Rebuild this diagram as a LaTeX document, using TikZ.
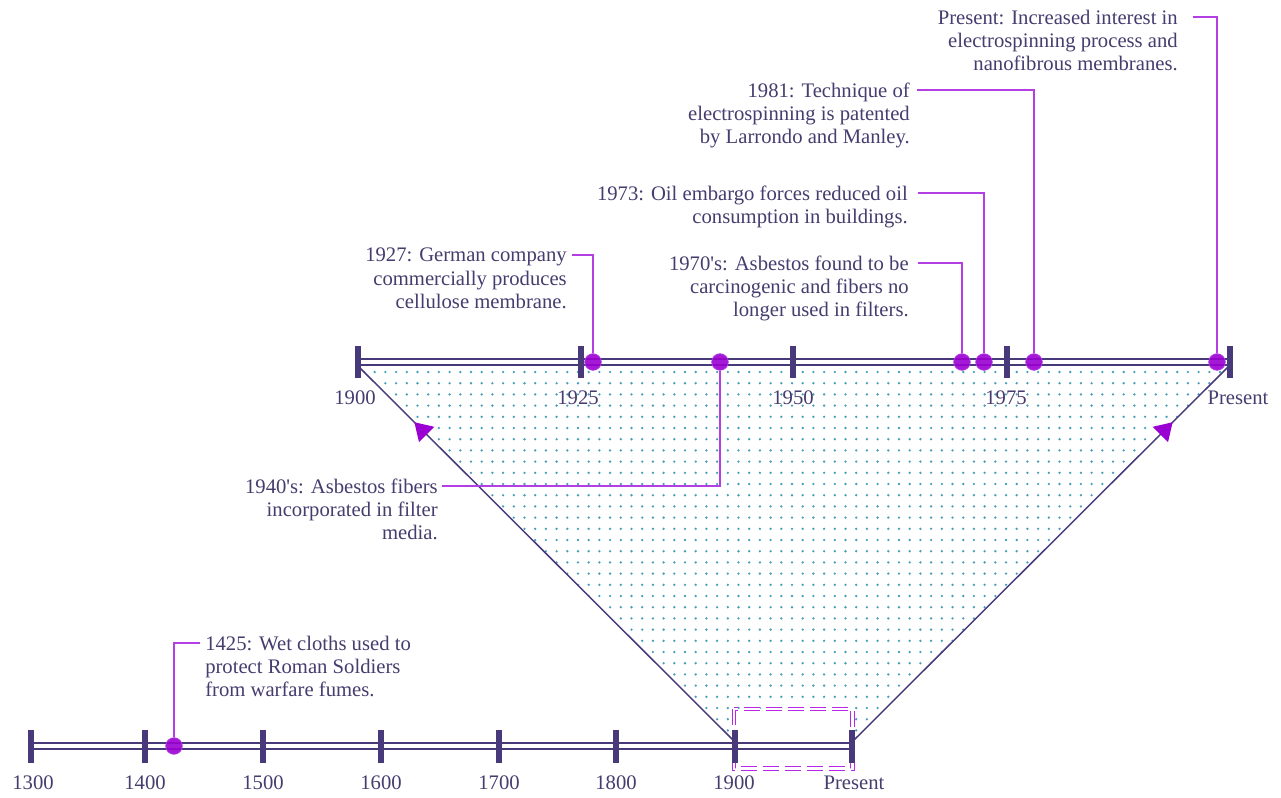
\documentclass[tikz,border=0pt]{standalone}
\usepackage{fontspec}
\IfFontExistsTF{LiberationSerif-Regular.ttf}
  {\setmainfont{LiberationSerif}[Extension=.ttf, UprightFont=*-Regular,
     BoldFont=*-Bold, ItalicFont=*-Italic, BoldItalicFont=*-BoldItalic]}
  {\setmainfont{Latin Modern Roman}}
\usetikzlibrary{arrows.meta,decorations.markings}

\definecolor{tline}{RGB}{72,58,122}
\definecolor{txt}{RGB}{70,60,110}
\definecolor{conn}{RGB}{178,62,228}
\definecolor{evfill}{RGB}{155,0,210}
\definecolor{dotc}{RGB}{70,158,185}
\definecolor{zoomc}{RGB}{185,40,230}

\tikzset{
  lbl/.style={text=txt, font=\rmfamily\fontsize{15.5}{17.3}\selectfont, inner sep=0pt},
  note/.style={lbl, align=right, anchor=north east},
  tl/.style={draw=tline, line width=1.1pt, double=white, double distance=3.4pt},
  tick/.style={draw=tline, line width=3.8pt},
  ev/.style={circle, fill=evfill, fill opacity=0.9, draw=conn, line width=0.5pt,
    minimum size=12.5pt, inner sep=0pt},
  link/.style={draw=conn, line width=1.1pt},
  funnel/.style={draw=tline, line width=1.1pt, postaction={decorate},
    decoration={markings, mark=at position 0.85 with
      {\arrow{Triangle[length=13pt,width=16pt,color=evfill]}}}},
}

\begin{document}
\begin{tikzpicture}[x=0.75pt, y=-0.75pt]
\useasboundingbox (0,0) rectangle (1281,797);

% zoomed area
\begin{scope}
  \clip (358,366) -- (1229,366) -- (853,741) -- (734,741) -- cycle;
  \foreach \r in {0,...,33} {
    \foreach \c in {0,...,81} {
      \fill[dotc] (364+10.7*\c, 372+11.2*\r) circle[radius=1.3];
    }
  }
\end{scope}
\fill[white] (734,709) rectangle (852.5,768.5);
\draw[funnel] (734,741) -- (358,366);
\draw[funnel] (853,741) -- (1229,366);
\draw[draw=zoomc, line width=0.9pt, double=white, double distance=1.6pt,
  dash pattern=on 12pt off 4.5pt] (734,709) rectangle (852.5,768.5);

% timelines
\draw[tl] (31,746) -- (852,746);
\draw[tl] (358,362) -- (1230,362);

\foreach \x/\yr/\lx in {31/1300/33, 145/1400/145, 263/1500/263, 381/1600/381,
    499/1700/499, 616/1800/616, 735/1900/734, 852/Present/854} {
  \draw[tick] (\x,730) -- (\x,763);
  \node[lbl] (b\yr) at (\lx,783) {\yr};
}
\foreach \x/\yr/\lx in {358/1900/355, 581/1925/578, 793/1950/793,
    1007/1975/1006, 1230/Present/1238} {
  \draw[tick] (\x,346) -- (\x,378);
  \node[lbl] (a\yr) at (\lx,398) {\yr};
}

% events
\node[ev] (d1425) at (174,746) {};
\node[ev] (d1927) at (593,362) {};
\node[ev] (d1940) at (720,362) {};
\node[ev] (d1970) at (962,362) {};
\node[ev] (d1973) at (984,362) {};
\node[ev] (d1981) at (1034,362) {};
\node[ev] (dnow) at (1217,362) {};

\node[lbl, align=left, anchor=north west] (t1425) at (205,636)
  {1425: Wet cloths used to\\protect Roman Soldiers\\from warfare fumes.};
\node[note] (t1927) at (567,248)
  {1927: German company\\commercially produces\\cellulose membrane.};
\node[note] (t1940) at (438,479)
  {1940\textquotesingle s: Asbestos fibers\\incorporated in filter\\media.};
\node[note] (t1970) at (909,256)
  {1970\textquotesingle s: Asbestos found to be\\carcinogenic and fibers no\\longer used in filters.};
\node[note] (t1973) at (908,186)
  {1973: Oil embargo forces reduced oil\\consumption in buildings.};
\node[note] (t1981) at (910,83)
  {1981: Technique of\\electrospinning is patented\\by Larrondo and Manley.};
\node[note] (tnow) at (1178,10)
  {Present: Increased interest in\\electrospinning process and\\nanofibrous membranes.};

\draw[link] (d1425) |- ([xshift=-4pt,yshift=-5.25pt]t1425.north west);
\draw[link] (d1927) |- ([xshift=4pt,yshift=-5.25pt]t1927.north east);
\draw[link] (d1940) |- ([xshift=3pt,yshift=-5.25pt]t1940.north east);
\draw[link] (d1970) |- ([xshift=7pt,yshift=-5.25pt]t1970.north east);
\draw[link] (d1973) |- ([xshift=7.5pt,yshift=-5.25pt]t1973.north east);
\draw[link] (d1981) |- ([xshift=5pt,yshift=-5.25pt]t1981.north east);
\draw[link] (dnow) |- ([xshift=11pt,yshift=-5.25pt]tnow.north east);

\end{tikzpicture}
\end{document}
